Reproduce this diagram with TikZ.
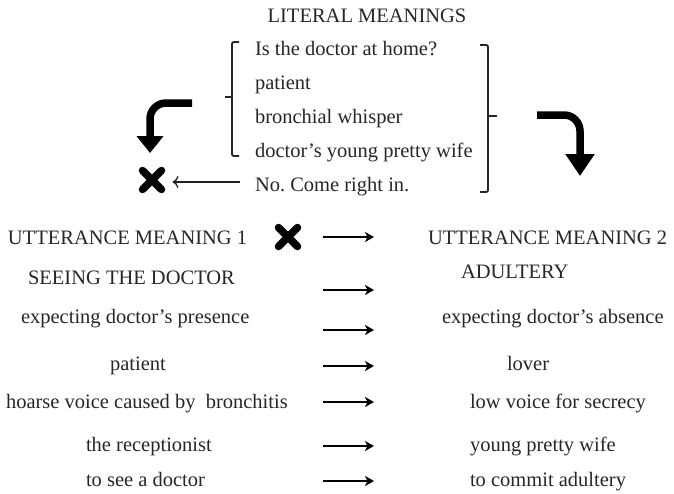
\documentclass[tikz,border=0pt]{standalone}
\usepackage{fontspec}
\setmainfont{Liberation Serif}
\usetikzlibrary{arrows.meta,shapes.misc}
\frenchspacing
\begin{document}
\begin{tikzpicture}[x=1pt,y=-1pt,
  txt/.style={inner sep=0pt, outer sep=0pt, font=\fontsize{20.5}{24}\selectfont, text=black!85},
  bracket/.style={draw=black!85, line width=1.9pt, rounded corners=2pt},
  bigarrow/.style={draw=black, line width=7.5pt, rounded corners=16pt},
  xmark/.style={cross out, draw=black, line width=7.5pt, line cap=round, minimum size=19pt, inner sep=0pt, outer sep=0pt},
  thinarrow/.style={draw=black!88, line width=1.3pt, -{To[length=6pt,width=12pt]}},
  maparrow/.style={draw=black, line width=2pt, -{Stealth[length=9pt,width=10pt,inset=2.5pt]}}
]
\useasboundingbox (0,0) rectangle (674,493);

% heading and literal meanings
\node[txt, anchor=base] (head) at (367,22) {LITERAL MEANINGS};
\node[txt, anchor=base west] (l1) at (255,55) {Is the doctor at home?};
\node[txt, anchor=base west] (l2) at (255,89) {patient};
\node[txt, anchor=base west] (l3) at (255,123) {bronchial whisper};
\node[txt, anchor=base west] (l4) at (255,157) {doctor’s young pretty wife};
\node[txt, anchor=base west] (l5) at (255,191) {No. Come right in.};

% brackets around the literal meanings
\draw[bracket] (239,42) -- (232,42) -- (232,156) -- (239,156);
\draw[bracket] (232,97) -- (225,97);
\draw[bracket] (480,45) -- (488,45) -- (488,192) -- (480,192);
\draw[bracket] (488,116) -- (497,116);

% curved arrows leading to the two readings
\draw[bigarrow, -{Triangle[width=26pt,length=17pt]}] (192,103) -- (150,103) -- (150,153);
\draw[bigarrow, -{Triangle[width=28pt,length=22pt]}] (537,115) -- (580,115) -- (580,176);

% rejected reading
\node[xmark] (xl) at (152,180) {};
\coordinate (nostart) at ([xshift=-15pt,yshift=9pt]l5.base west);
\draw[thinarrow] (nostart) -- ([xshift=11pt]xl.east |- nostart);

% utterance meanings
\node[txt, anchor=base west] (u1) at (8,244) {UTTERANCE MEANING 1};
\node[xmark] (xm) at (288,237) {};
\node[txt, anchor=base west] (u2) at (428,244) {UTTERANCE MEANING 2};

\node[txt, anchor=base west] (a1) at (28,284) {SEEING THE DOCTOR};
\node[txt, anchor=base west] (b1) at (461,278) {ADULTERY};
\node[txt, anchor=base west] (a2) at (21,323) {expecting doctor’s presence};
\node[txt, anchor=base west] (b2) at (442,323) {expecting doctor’s absence};
\node[txt, anchor=base west] (a3) at (110,370) {patient};
\node[txt, anchor=base west] (b3) at (507,370) {lover};
\node[txt, anchor=base west] (a4) at (6,408) {hoarse voice caused by\ \ bronchitis};
\node[txt, anchor=base west] (b4) at (470,408) {low voice for secrecy};
\node[txt, anchor=base west] (a5) at (86,451) {the receptionist};
\node[txt, anchor=base west] (b5) at (470,451) {young pretty wife};
\node[txt, anchor=base west] (a6) at (86,486) {to see a doctor};
\node[txt, anchor=base west] (b6) at (470,486) {to commit adultery};

% mapping arrows between the two columns
\foreach \i/\y in {0/237, 1/290, 2/330, 3/366, 4/402, 5/446, 6/481} {
  \coordinate (s\i) at (323,\y);
  \coordinate (e\i) at (374,\y);
  \draw[maparrow] (s\i) -- (e\i);
}
\end{tikzpicture}
\end{document}
